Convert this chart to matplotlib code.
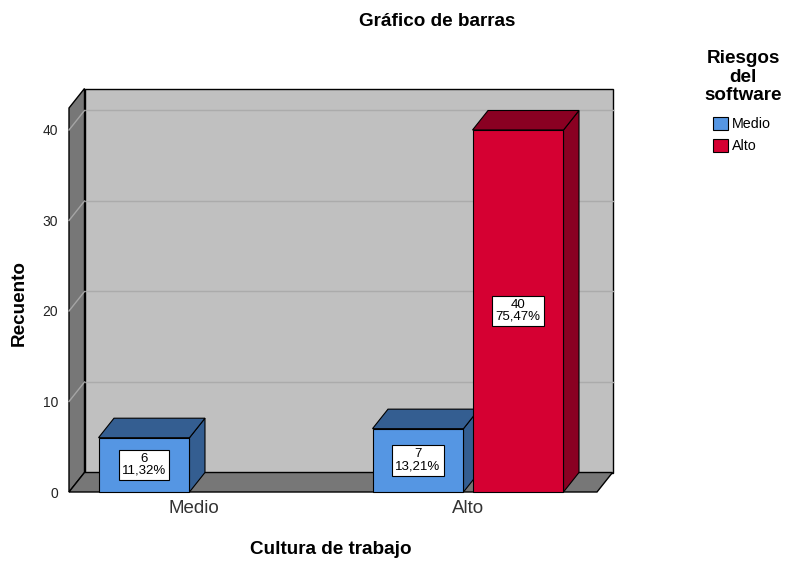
import matplotlib
matplotlib.use('Agg')
import matplotlib.pyplot as plt
from matplotlib.patches import Polygon, Patch

plt.rcParams['font.family'] = ['Liberation Sans', 'DejaVu Sans']

# ---- data ----
categories = ['Medio', 'Alto']          # Cultura de trabajo
series_names = ['Medio', 'Alto']        # Riesgos del software
counts_medio = [6, 7]
counts_alto = [0, 40]
yticks = [0, 10, 20, 30, 40]

title = 'Gráfico de barras'
xlabel = 'Cultura de trabajo'
ylabel = 'Recuento'
legend_title = 'Riesgos\ndel\nsoftware'

front_colors = ['#5596E3', '#D50032']
dark_colors = ['#345E91', '#8A0022']

series = [counts_medio, counts_alto]
total = sum(counts_medio) + sum(counts_alto)

# ---- figure ----
W, H = 785, 561
fig = plt.figure(figsize=(W / 100, H / 100), dpi=100)
ax = fig.add_axes([69 / W, 69 / H, 528 / W, 384 / H])
XMIN, XMAX = -0.4562, 1.4708
YMAX = 42.43
ax.set_xlim(XMIN, XMAX)
ax.set_ylim(0, YMAX)
for s in ax.spines.values():
    s.set_visible(False)
ax.patch.set_visible(False)

px_x = 528 / (XMAX - XMIN)
px_y = 384 / YMAX
ddx = 15.5 / px_x
ddy = 19.5 / px_y

wall_gray = '#C0C0C0'
side_gray = '#777777'

# back wall
ax.add_patch(Polygon([(XMIN + ddx, ddy), (XMAX + ddx, ddy), (XMAX + ddx, YMAX + ddy),
                      (XMIN + ddx, YMAX + ddy)], closed=True, fc=wall_gray, ec='black',
                     lw=1.0, zorder=1, clip_on=False))
for v in yticks[1:]:
    ax.plot([XMIN + ddx, XMAX + ddx], [v + ddy, v + ddy], color='#ABABAB', lw=1.0,
            zorder=1.5, clip_on=False)
# left side wall
ax.add_patch(Polygon([(XMIN, 0), (XMIN + ddx, ddy), (XMIN + ddx, YMAX + ddy), (XMIN, YMAX)],
                     closed=True, fc=side_gray, ec='black', lw=1.0, zorder=2, clip_on=False))
for v in yticks[1:]:
    ax.plot([XMIN, XMIN + ddx], [v, v + ddy], color='#A5A5A5', lw=1.0, zorder=2.5,
            clip_on=False)
# floor
ax.add_patch(Polygon([(XMIN, 0), (XMAX, 0), (XMAX + ddx, ddy), (XMIN + ddx, ddy)],
                     closed=True, fc=side_gray, ec='black', lw=1.0, zorder=3, clip_on=False))

# bars
bar_w = 0.332
gap = 0.033
offsets = [-(bar_w + gap) / 2, (bar_w + gap) / 2]
z = 4
for i, cat in enumerate(categories):
    for j, vals in enumerate(series):
        v = vals[i]
        if v <= 0:
            continue
        xc = i + offsets[j]
        xl, xr = xc - bar_w / 2, xc + bar_w / 2
        ax.add_patch(Polygon([(xr, 0), (xr + ddx, ddy), (xr + ddx, v + ddy), (xr, v)],
                             closed=True, fc=dark_colors[j], ec='black', lw=0.8,
                             zorder=z, clip_on=False))
        ax.add_patch(Polygon([(xl, v), (xr, v), (xr + ddx, v + ddy), (xl + ddx, v + ddy)],
                             closed=True, fc=dark_colors[j], ec='black', lw=0.8,
                             zorder=z, clip_on=False))
        ax.bar(xc, v, width=bar_w, color=front_colors[j], edgecolor='black', lw=0.8,
               zorder=z + 0.5, clip_on=False)
        pct = f'{100 * v / total:.2f}'.replace('.', ',') + '%'
        ax.text(xc, v / 2, f'{v}\n{pct}', ha='center', va='center', fontsize=9.5,
                linespacing=1.0, zorder=20,
                bbox=dict(boxstyle='square,pad=0.25', fc='white', ec='black', lw=0.8))
        z += 1

ax.set_yticks(yticks)
ax.set_yticklabels([str(t) for t in yticks])
ax.tick_params(axis='y', length=0, pad=8, labelsize=10, labelcolor='#222222')
ax.set_xticks(range(len(categories)))
ax.set_xticklabels(categories)
ax.tick_params(axis='x', length=0, pad=6, labelsize=13.5, labelcolor='#333333')

fig.text(437 / W, 1 - 22 / H, title, ha='center', va='center', fontsize=13.6,
         fontweight='bold')
fig.text(331 / W, 1 - 550 / H, xlabel, ha='center', va='center', fontsize=13.6,
         fontweight='bold')
fig.text(19 / W, 1 - 303 / H, ylabel, ha='center', va='center', rotation=90,
         fontsize=13.6, fontweight='bold')

# legend title and entries
fig.text(743 / W, 1 - 77 / H, legend_title, ha='center', va='center', fontsize=13.6,
         fontweight='bold', linespacing=1.15, multialignment='center')
handles = [Patch(fc=front_colors[j], ec='black', lw=0.8, label=series_names[j])
           for j in range(len(series_names))]
leg = fig.legend(handles=handles, loc='upper center',
                 bbox_to_anchor=(742 / W, 1 - 117 / H), frameon=False, fontsize=10.3,
                 handlelength=1.0, handleheight=1.0, handletextpad=0.3,
                 labelspacing=0.55, borderpad=0.0, borderaxespad=0.0)

fig.savefig('out.png', dpi=100)
